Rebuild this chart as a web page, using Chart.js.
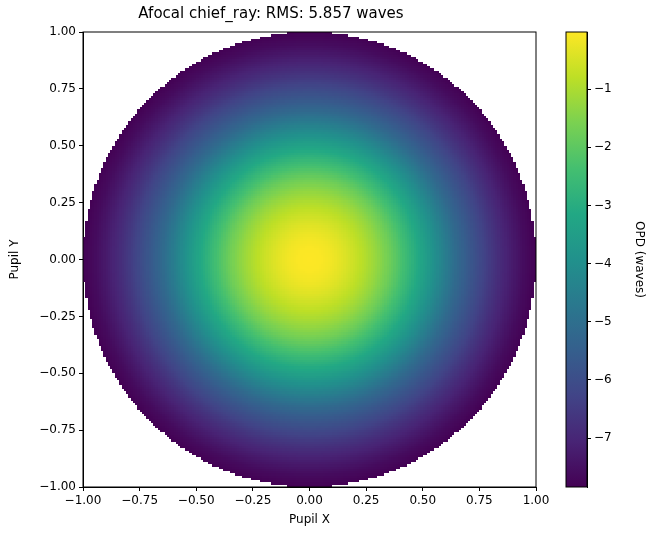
<!DOCTYPE html>
<html>
<head>
<meta charset="utf-8">
<script src="https://cdn.jsdelivr.net/npm/chart.js@4.4.1/dist/chart.umd.min.js"></script>
<style>
  body { margin: 0; background: #fff; }
  #wrap { position: relative; width: 650px; height: 540px; }
  #main { position: absolute; left: 0; top: 0; }
  #cbar { position: absolute; left: 540px; top: 0; }
</style>
</head>
<body>
<div id="wrap">
  <canvas id="main" width="560" height="540"></canvas>
  <canvas id="cbar" width="110" height="540"></canvas>
</div>
<script>
// radial OPD profile (waves), at r = 0, 0.05, ..., 1.0
const radii = [0, 0.05, 0.10, 0.15, 0.20, 0.25, 0.30, 0.35, 0.40, 0.45, 0.50,
               0.55, 0.60, 0.65, 0.70, 0.75, 0.80, 0.85, 0.90, 0.95, 1.00];
const opdProfile = [-0.02, -0.05, -0.17, -0.38, -0.65, -0.95, -1.30, -1.72, -2.25, -2.80, -3.35,
                    -3.95, -4.55, -5.15, -5.65, -6.10, -6.55, -6.95, -7.30, -7.62, -7.84];
const axisTicks = [-1, -0.75, -0.5, -0.25, 0, 0.25, 0.5, 0.75, 1];
const cbarTicks = [-7, -6, -5, -4, -3, -2, -1];
const vmin = -7.84, vmax = -0.02;
const gridN = 200;

// viridis stops
const viridis = ["#440154","#482475","#414487","#355f8d","#2a788e","#21918c","#22a884","#44bf70","#7ad151","#bddf26","#fde725"];
function hexRgb(h) { return [1,3,5].map(i => parseInt(h.slice(i, i + 2), 16)); }
const vStops = viridis.map(hexRgb);
function cmap(v) {
  let t = Math.min(1, Math.max(0, (v - vmin) / (vmax - vmin))) * (vStops.length - 1);
  const i = Math.min(vStops.length - 2, Math.floor(t)), f = t - i;
  const c = vStops[i].map((a, k) => Math.round(a + (vStops[i + 1][k] - a) * f));
  return `rgb(${c[0]},${c[1]},${c[2]})`;
}
function opdAt(r) {
  for (let i = 1; i < radii.length; i++) {
    if (r <= radii[i]) {
      const f = (r - radii[i - 1]) / (radii[i] - radii[i - 1]);
      return opdProfile[i - 1] + (opdProfile[i] - opdProfile[i - 1]) * f;
    }
  }
  return opdProfile[opdProfile.length - 1];
}
const fmt = v => (v < 0 ? "\u2212" : "") + Math.abs(v).toFixed(2);
const font = { family: "DejaVu Sans", size: 12 };

const heatmap = {
  id: "heatmap",
  beforeDatasetsDraw(chart) {
    const { ctx, scales: { x, y } } = chart;
    const step = 2 / gridN;
    const xe = [], ye = [];
    for (let k = 0; k <= gridN; k++) {
      xe.push(Math.round(x.getPixelForValue(-1 + k * step)));
      ye.push(Math.round(y.getPixelForValue(-1 + k * step)));
    }
    for (let i = 0; i < gridN; i++) {
      for (let j = 0; j < gridN; j++) {
        const cx = -1 + (i + 0.5) * step, cy = -1 + (j + 0.5) * step;
        const r = Math.hypot(cx, cy);
        if (r > 1) continue;
        const w = xe[i + 1] - xe[i], h = ye[j] - ye[j + 1];
        if (w <= 0 || h <= 0) continue;
        ctx.fillStyle = cmap(opdAt(r));
        ctx.fillRect(xe[i], ye[j + 1], w, h);
      }
    }
  },
  afterDraw(chart) {
    const { ctx, chartArea: a } = chart;
    ctx.save();
    ctx.strokeStyle = "#000";
    ctx.lineWidth = 1;
    ctx.strokeRect(a.left, a.top, a.right - a.left, a.bottom - a.top);
    ctx.restore();
  }
};

const axisCommon = (title) => ({
  type: "linear", min: -1, max: 1,
  afterBuildTicks: s => { s.ticks = axisTicks.map(v => ({ value: v })); },
  ticks: { callback: v => fmt(v), color: "#000", font, maxRotation: 0, autoSkip: false },
  grid: { drawOnChartArea: false, color: "#000", tickLength: 4 },
  border: { color: "#000" },
  title: { display: true, text: title, color: "#000", font, padding: { top: 2, bottom: 4 } }
});

new Chart(document.getElementById("main"), {
  type: "scatter",
  data: { datasets: [{ data: [] }] },
  options: {
    responsive: false, animation: false,
    layout: { padding: { left: 6, right: 24, top: 0, bottom: 9 } },
    plugins: {
      legend: { display: false }, tooltip: { enabled: false },
      title: { display: true, text: "Afocal chief_ray: RMS: 5.857 waves", color: "#000",
               font: { family: "DejaVu Sans", size: 15, weight: "normal" }, padding: { top: 5, bottom: 9 } }
    },
    scales: {
      x: { ...axisCommon("Pupil X"), afterFit: s => { s.height = 44; } },
      y: { ...axisCommon("Pupil Y"), afterFit: s => { s.width = 77; } }
    }
  },
  plugins: [heatmap]
});

const gradientBar = {
  id: "gradientBar",
  beforeDatasetsDraw(chart) {
    const { ctx, chartArea: a } = chart;
    const g = ctx.createLinearGradient(0, a.bottom, 0, a.top);
    viridis.forEach((c, i) => g.addColorStop(i / (viridis.length - 1), c));
    ctx.fillStyle = g;
    ctx.fillRect(a.left, a.top, a.right - a.left, a.bottom - a.top);
    ctx.strokeStyle = "#000";
    ctx.lineWidth = 1;
    ctx.strokeRect(a.left, a.top, a.right - a.left, a.bottom - a.top);
  }
};

new Chart(document.getElementById("cbar"), {
  type: "scatter",
  data: { datasets: [{ data: [] }] },
  options: {
    responsive: false, animation: false,
    layout: { padding: { left: 26, right: 0, top: 32, bottom: 53 } },
    plugins: { legend: { display: false }, tooltip: { enabled: false } },
    scales: {
      x: { display: false, min: 0, max: 1 },
      y: {
        position: "right", min: vmin, max: vmax,
        afterBuildTicks: s => { s.ticks = cbarTicks.map(v => ({ value: v })); },
        afterFit: s => { s.width = 63; },
        ticks: { callback: v => (v < 0 ? "\u2212" : "") + Math.abs(v), color: "#000", font },
        grid: { drawOnChartArea: false, color: "#000", tickLength: 4 },
        border: { color: "#000" },
        title: { display: true, text: "OPD (waves)", color: "#000", font }
      }
    }
  },
  plugins: [gradientBar]
});
</script>
</body>
</html>
